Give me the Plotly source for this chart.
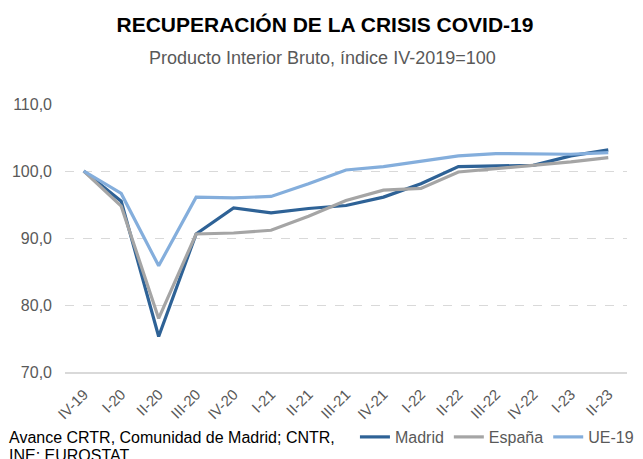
import plotly.graph_objects as go

quarters = ["IV-19", "I-20", "II-20", "III-20", "IV-20", "I-21", "II-21", "III-21",
            "IV-21", "I-22", "II-22", "III-22", "IV-22", "I-23", "II-23"]
madrid = [100.0, 95.5, 75.3, 90.6, 94.5, 93.75, 94.4, 94.85, 96.1, 98.1, 100.65, 100.8, 100.85, 102.25, 103.15]
espana = [100.0, 94.75, 78.0, 90.6, 90.75, 91.15, 93.25, 95.6, 97.15, 97.4, 99.85, 100.35, 100.8, 101.35, 102.0]
ue19 = [100.0, 96.65, 85.85, 96.1, 96.0, 96.2, 98.1, 100.15, 100.65, 101.5, 102.25, 102.6, 102.5, 102.5, 102.75]
y_ticks = [70, 80, 90, 100, 110]
y_tick_labels = ["70,0", "80,0", "90,0", "100,0", "110,0"]
series_names = ["Madrid", "España", "UE-19"]
series_colors = ["#2E6296", "#A5A5A5", "#84AEDC"]

FONT = "Liberation Sans, Arial, sans-serif"
W, H = 643, 459
L, R, T, B = 57, 21, 96, 95
PW, PH = W - L - R, H - T - B


def px(xf):
    return (xf - L) / PW


def py(yf):
    return (H - B - yf) / PH


fig = go.Figure()
for name, vals, col in zip(series_names, [madrid, espana, ue19], series_colors):
    fig.add_trace(go.Scatter(x=quarters, y=vals, name=name, mode="lines",
                             line=dict(color=col, width=3.2)))

fig.update_layout(
    width=W, height=H,
    margin=dict(l=L, r=R, t=T, b=B),
    paper_bgcolor="white", plot_bgcolor="white",
    font=dict(family=FONT, color="#595959", size=15),
    title=dict(text="<b>RECUPERACIÓN DE LA CRISIS COVID-19</b>",
               x=317 / W, xanchor="center", y=1 - 17 / H, yanchor="middle",
               font=dict(size=21, color="#000000", family=FONT)),
    showlegend=True,
    legend=dict(orientation="h", x=px(634), xanchor="right", y=py(429), yanchor="middle",
                font=dict(size=16, color="#595959"), traceorder="normal",
                itemwidth=30, bgcolor="rgba(0,0,0,0)"),
    xaxis=dict(type="category", range=[-0.5, 14.5], tickangle=-45, automargin=False,
               showgrid=False, showline=True, linecolor="#D9D9D9", linewidth=1.5,
               ticks="", ticklabelstandoff=6, tickfont=dict(size=15, color="#595959")),
    yaxis=dict(range=[70, 110], tickvals=y_ticks, ticktext=y_tick_labels, automargin=False,
               showgrid=True, gridcolor="#D9D9D9", griddash="dash", gridwidth=1,
               zeroline=False, showline=False, ticks="", ticklabelstandoff=12,
               tickfont=dict(size=16, color="#595959")),
    annotations=[
        dict(text="Producto Interior Bruto, índice IV-2019=100", xref="paper", yref="paper",
             x=px(316), y=py(50), xanchor="center", yanchor="middle", showarrow=False,
             font=dict(size=18, color="#595959")),
        dict(text="Avance CRTR, Comunidad de Madrid; CNTR,",
             xref="paper", yref="paper", x=px(-1), y=py(429), xanchor="left", yanchor="middle",
             align="left", showarrow=False, font=dict(size=16, color="#000000")),
        dict(text="INE; EUROSTAT",
             xref="paper", yref="paper", x=px(-1), y=py(447), xanchor="left", yanchor="middle",
             align="left", showarrow=False, font=dict(size=16, color="#000000")),
    ],
)
fig.write_html("out.html")
